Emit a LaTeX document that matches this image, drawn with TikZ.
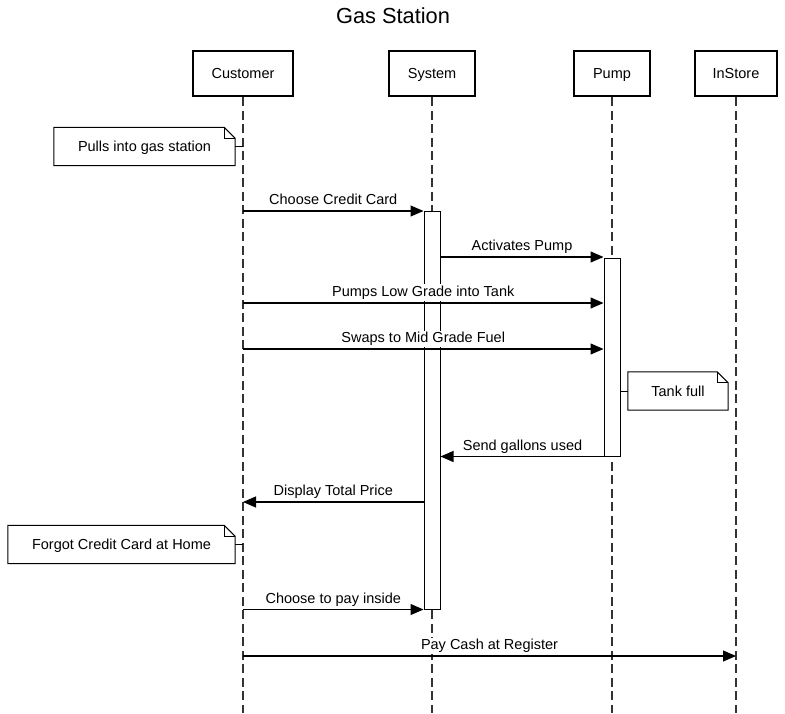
\documentclass[tikz,border=0pt]{standalone}
\usepackage{fontspec}
\setmainfont{Liberation Sans}
\usetikzlibrary{arrows.meta}

\tikzset{
  x=1pt, y=-1pt,
  every node/.style={font=\fontsize{14.5}{17}\selectfont, inner sep=0pt},
  capbox/.style={text height=10.5pt, text depth=0pt},
  header/.style={draw, capbox, line width=2.6pt, minimum height=45pt},
  lifeline/.style={line width=1.3pt, draw=black!80, dash pattern=on 9pt off 4.5pt},
  act/.style={draw, fill=white, line width=1pt, minimum width=16pt},
  msg/.style={line width=1.1pt, -{Triangle[length=13pt,width=11pt]}},
  lbl/.style={anchor=base, yshift=6.5pt, fill=white, inner xsep=1pt, inner ysep=1.5pt},
  notebox/.style={capbox, minimum height=38pt},
  link/.style={line width=1pt},
}

% outline of a UML note with a folded top-right corner
\newcommand\foldednote[1]{%
  \draw[line width=1pt, line join=miter]
    (#1.north west) -- ([xshift=-11pt]#1.north east)
    -- ([yshift=-11pt]#1.north east) -- (#1.south east)
    -- (#1.south west) -- cycle;
  \draw[line width=1pt]
    ([xshift=-11pt]#1.north east) -- ([xshift=-11pt,yshift=-11pt]#1.north east)
    -- ([yshift=-11pt]#1.north east);
}

\begin{document}
\begin{tikzpicture}
\useasboundingbox (0,0) rectangle (785,713);

\node[font=\fontsize{21.8}{26}\selectfont, capbox] (title) at (393,18) {Gas Station};

% participants
\node[header, minimum width=100pt] (cust)  at (243,73.5) {Customer};
\node[header, minimum width=86pt]  (sys)   at (432,73.5) {System};
\node[header, minimum width=76pt]  (pump)  at (612,73.5) {Pump};
\node[header, minimum width=82pt]  (store) at (736,73.5) {InStore};

\coordinate (bottom) at (0,713);
\foreach \p in {cust,sys,pump,store}
  \draw[lifeline] (\p.south) -- (\p.south |- bottom);

% activation bars
\node[act, minimum height=398pt] (sysact)  at (432,410) {};
\node[act, minimum height=198pt] (pumpact) at (612,357) {};

% message rows
\coordinate (m1) at (0,211);
\coordinate (m2) at (0,257);
\coordinate (m3) at (0,303);
\coordinate (m4) at (0,349);
\coordinate (m7) at (0,502);
\coordinate (m10) at (0,656);

% notes
\node[notebox, minimum width=181pt] (n1) at (144.5,146.5) {Pulls into gas station};
\foldednote{n1}
\draw[link] (n1.east) -- (cust |- n1.east);

\node[notebox, minimum width=100pt] (n2) at (678,391) {Tank full};
\foldednote{n2}
\draw[link] (pumpact.east |- n2.west) -- (n2.west);

\node[notebox, minimum width=227pt] (n3) at (121.5,544.5) {Forgot Credit Card at Home};
\foldednote{n3}
\draw[link] (n3.east) -- (cust |- n3.east);

% messages
\draw[msg] (cust |- m1) -- node[lbl] {Choose Credit Card} (sysact.west |- m1);
\draw[msg] (sysact.east |- m2) -- node[lbl] {Activates Pump} (pumpact.west |- m2);
\draw[msg] (cust |- m3) -- node[lbl] {Pumps Low Grade into Tank} (pumpact.west |- m3);
\draw[msg] (cust |- m4) -- node[lbl] {Swaps to Mid Grade Fuel} (pumpact.west |- m4);
\draw[msg] (pumpact.south east) -- node[lbl, xshift=-8pt] {Send gallons used} (sysact.east |- pumpact.south);
\draw[msg] (sysact.west |- m7) -- node[lbl] {Display Total Price} (cust |- m7);
\draw[msg] (cust |- sysact.south) -- node[lbl] {Choose to pay inside} (sysact.south west);
\draw[msg] (cust |- m10) -- node[lbl] {Pay Cash at Register} (store |- m10);
\end{tikzpicture}
\end{document}
